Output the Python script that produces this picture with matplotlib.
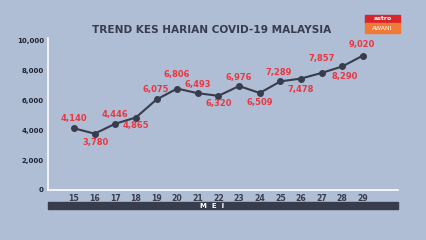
import matplotlib
matplotlib.use("Agg")
import matplotlib.pyplot as plt
from matplotlib.patches import Rectangle

# Daily cases, 15-29 May
days = [15, 16, 17, 18, 19, 20, 21, 22, 23, 24, 25, 26, 27, 28, 29]
cases = [4140, 3780, 4446, 4865, 6075, 6806, 6493, 6320, 6976, 6509,
         7289, 7478, 7857, 8290, 9020]
y_ticks = [0, 2000, 4000, 6000, 8000, 10000]
title = "TREND KES HARIAN COVID-19 MALAYSIA"
month = "M  E  I"

# label offsets in pixels (dx, dy)
label_offsets = [(0, 10), (1, -9), (0, 9), (0, -8), (-1, 10), (0, 14), (0, 9),
                 (0, -8), (0, 9), (0, -9), (-2, 9), (0, -11), (0, 14), (2, -10),
                 (-1, 11)]

bg = "#afbdd5"
dark = "#373d4c"
red = "#e83842"

W, H = 426, 240
fig = plt.figure(figsize=(W / 100, H / 100), dpi=100)
fig.patch.set_facecolor(bg)

ax = fig.add_axes([48 / W, (H - 190) / H, 350 / W, 152 / H])
ax.set_facecolor("none")
ax.plot(days, cases, color=dark, lw=1.5, marker="o", ms=4, zorder=3)

for d, c, (dx, dy) in zip(days, cases, label_offsets):
    ax.annotate(f"{c:,}", (d, c), xytext=(dx, dy), textcoords="offset pixels",
                ha="center", va="center", color=red, fontsize=6,
                fontweight="bold")

ax.set_xlim(13.74, 30.7)
ax.set_ylim(0, 10200)
ax.set_xticks(days)
ax.set_yticks(y_ticks)
ax.set_yticklabels([f"{v:,}" for v in y_ticks])
ax.tick_params(length=0, labelcolor="#1f2430")
ax.tick_params(axis="y", labelsize=5, pad=3)
ax.tick_params(axis="x", labelsize=5.6, pad=3, labelcolor=dark)
for lbl in ax.get_xticklabels() + ax.get_yticklabels():
    lbl.set_fontweight("bold")
for s in ["top", "right"]:
    ax.spines[s].set_visible(False)
for s in ["left", "bottom"]:
    ax.spines[s].set_color("white")
    ax.spines[s].set_linewidth(1.2)

# month bar
fig.patches.append(Rectangle((48 / W, (H - 209) / H), 350 / W, 7 / H,
                             transform=fig.transFigure, color=dark))
fig.text(212 / W, (H - 205.5) / H, month, color="white", fontsize=5,
         fontweight="bold", ha="center", va="center")

fig.text(212 / W, (H - 30) / H, title, color=dark, fontsize=7.6,
         fontweight="bold", ha="center", va="center")

# logo
fig.patches.append(Rectangle((365 / W, (H - 22.7) / H), 35 / W, 7.7 / H,
                             transform=fig.transFigure, color="#d9242b"))
fig.patches.append(Rectangle((365 / W, (H - 33) / H), 35 / W, 10.3 / H,
                             transform=fig.transFigure, color="#f07a36"))
fig.text(382.5 / W, (H - 19) / H, "astro", color="white", fontsize=4.5,
         fontweight="bold", ha="center", va="center")
fig.text(382.5 / W, (H - 28) / H, "AWANI", color="white", fontsize=4.5,
         ha="center", va="center")

fig.savefig("out.png", dpi=100, facecolor=bg)
